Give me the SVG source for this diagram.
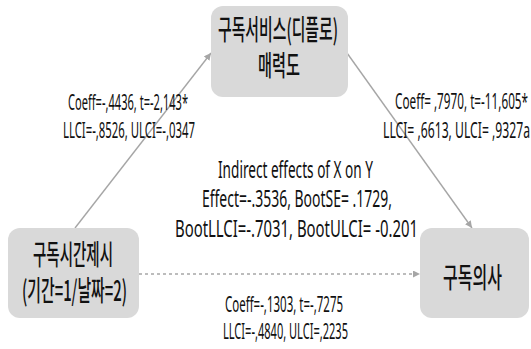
<svg xmlns="http://www.w3.org/2000/svg" width="531" height="349" viewBox="0 0 531 349">
<style>
.box{fill:#d9d9d9;stroke:none}
.kr{font-family:"Noto Sans CJK KR","Noto Sans",sans-serif;fill:#111111;text-anchor:middle;font-weight:500;font-size:28px}
.lb{font-family:"Noto Sans","Liberation Sans",sans-serif;fill:#111111;font-size:21px}
.lc{font-family:"Noto Sans","Liberation Sans",sans-serif;fill:#111111;font-size:23px}
.edge{stroke:#a6a6a6;stroke-width:1.4;fill:none}
</style>
<defs>
<marker id="ah" viewBox="0 0 10 10" refX="10" refY="5" markerWidth="7" markerHeight="7" markerUnits="userSpaceOnUse" orient="auto">
<path d="M0,0 L10,5 L0,10 z" fill="#a6a6a6"/>
</marker>
</defs>
<rect width="531" height="349" fill="#ffffff"/>
<g id="connectors">
<line class="edge" x1="75" y1="228" x2="211" y2="53" marker-end="url(#ah)"/>
<line class="edge" x1="347" y1="53" x2="472" y2="228" marker-end="url(#ah)"/>
<line class="edge" x1="139" y1="274" x2="420" y2="274" stroke-dasharray="3,3" marker-end="url(#ah)"/>
</g>
<g id="node-mediator">
<rect class="box" x="211" y="6" width="137" height="91" rx="12"/>
<text class="kr" transform="translate(278,40) scale(0.6,1)" x="0" y="0" textLength="200" lengthAdjust="spacingAndGlyphs">구독서비스(디플로)</text>
<text class="kr" transform="translate(279,76) scale(0.6,1)" x="0" y="0" textLength="70" lengthAdjust="spacingAndGlyphs">매력도</text>
</g>
<g id="node-x">
<rect class="box" x="8" y="228" width="131" height="90" rx="12"/>
<text class="kr" transform="translate(73,265) scale(0.6,1)" x="0" y="0" textLength="133.3" lengthAdjust="spacingAndGlyphs">구독시간제시</text>
<text class="kr" transform="translate(74.5,301) scale(0.6,1)" x="0" y="0" textLength="175" lengthAdjust="spacingAndGlyphs">(기간=1/날짜=2)</text>
</g>
<g id="node-y">
<rect class="box" x="420" y="228" width="109" height="90" rx="12"/>
<text class="kr" transform="translate(472.5,288) scale(0.6,1)" x="0" y="0" textLength="98.3" lengthAdjust="spacingAndGlyphs">구독의사</text>
</g>
<g id="labels">
<text class="lb" transform="translate(68,110) scale(0.6,1)" x="0" y="0" textLength="200" lengthAdjust="spacingAndGlyphs">Coeff=-,4436, t=-2,143*</text>
<text class="lb" transform="translate(63,138) scale(0.6,1)" x="0" y="0" textLength="220" lengthAdjust="spacingAndGlyphs">LLCI=-,8526, ULCI=-,0347</text>
<text class="lb" transform="translate(395,109) scale(0.6,1)" x="0" y="0" textLength="221.7" lengthAdjust="spacingAndGlyphs">Coeff= ,7970, t=-11,605*</text>
<text class="lb" transform="translate(383,138) scale(0.6,1)" x="0" y="0" textLength="245" lengthAdjust="spacingAndGlyphs">LLCI= ,6613, ULCI= ,9327a</text>
<text class="lc" transform="translate(218,178) scale(0.6,1)" x="0" y="0" textLength="258.3" lengthAdjust="spacingAndGlyphs">Indirect effects of X on Y</text>
<text class="lc" transform="translate(202,207) scale(0.6,1)" x="0" y="0" textLength="316.7" lengthAdjust="spacingAndGlyphs">Effect=-.3536, BootSE= .1729,</text>
<text class="lc" transform="translate(175,237) scale(0.6,1)" x="0" y="0" textLength="405" lengthAdjust="spacingAndGlyphs">BootLLCI=-.7031, BootULCI= -0.201</text>
<text class="lb" transform="translate(225,312) scale(0.6,1)" x="0" y="0" textLength="196.7" lengthAdjust="spacingAndGlyphs">Coeff=-,1303, t=-,7275</text>
<text class="lb" transform="translate(223,339) scale(0.6,1)" x="0" y="0" textLength="208.3" lengthAdjust="spacingAndGlyphs">LLCI=-,4840, ULCI=,2235</text>
</g>
</svg>
